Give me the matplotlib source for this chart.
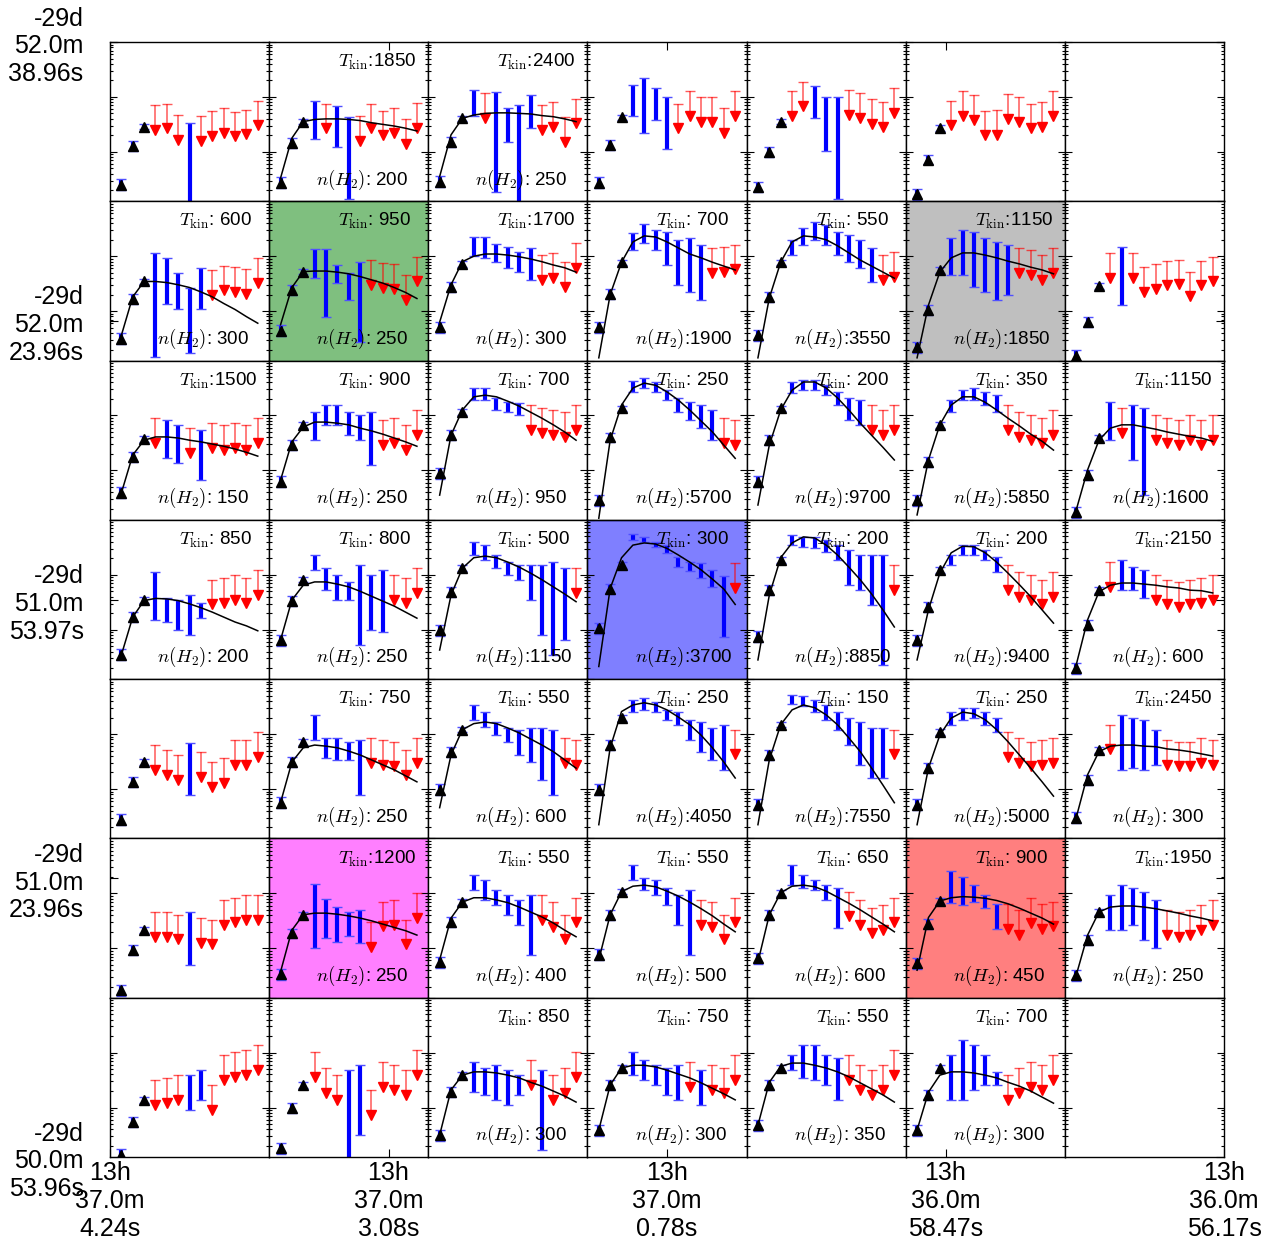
import numpy as np
import matplotlib
matplotlib.use('Agg')
import matplotlib.pyplot as plt
from matplotlib.colors import to_rgba
from matplotlib.ticker import NullFormatter, NullLocator

plt.rcParams['font.family'] = ['Liberation Sans', 'DejaVu Sans']
plt.rcParams['mathtext.fontset'] = 'cm'

# Constants
NROW, NCOL = 7, 7
LEVELS = np.arange(1, 14)        # 13 transitions per panel
YMIN, YMAX = 9.1, 12.0           # log10 column density shown
ARROW_DEX = 0.45                 # length of upper-limit arrows

# outer sky coordinates
RA_LABELS = ['13h\n37.0m\n4.24s', '13h\n37.0m\n3.08s', '13h\n37.0m\n0.78s',
             '13h\n36.0m\n58.47s', '13h\n36.0m\n56.17s']
DEC_LABELS = ['-29d\n50.0m\n53.96s', '-29d\n51.0m\n23.96s', '-29d\n51.0m\n53.97s',
              '-29d\n52.0m\n23.96s', '-29d\n52.0m\n38.96s']

# best-fit parameters per pixel (row by row, top to bottom)
TKIN = [[None, 1850, 2400, None, None, None, None],
        [600, 950, 1700, 700, 550, 1150, None],
        [1500, 900, 700, 250, 200, 350, 1150],
        [850, 800, 500, 300, 200, 200, 2150],
        [None, 750, 550, 250, 150, 250, 2450],
        [None, 1200, 550, 550, 650, 900, 1950],
        [None, None, 850, 750, 550, 700, None]]
NH2 = [[None, 200, 250, None, None, None, None],
       [300, 250, 300, 1900, 3550, 1850, None],
       [150, 250, 950, 5700, 9700, 5850, 1600],
       [200, 250, 1150, 3700, 8850, 9400, 600],
       [None, 250, 600, 4050, 7550, 5000, 300],
       [None, 250, 400, 500, 600, 450, 250],
       [None, None, 300, 300, 350, 300, None]]
SHADE = {(1, 1): 'green', (1, 5): 'gray', (3, 3): 'blue',
         (5, 1): 'magenta', (5, 5): 'red'}

# first three levels (triangles), log10 N
TRI = [
    [9.40, 10.11, 10.46], [9.44, 10.16, 10.55], [9.46, 10.18, 10.61], [9.44, 10.12, 10.63],
    [9.36, 10.00, 10.55], [9.23, 9.86, 10.43], None,
    [9.50, 10.22, 10.54], [9.64, 10.38, 10.72], [9.71, 10.44, 10.86], [9.71, 10.31, 10.89],
    [9.56, 10.26, 10.89], [9.34, 10.02, 10.75], [9.19, 9.81, 10.46],
    [9.59, 10.24, 10.57], [9.79, 10.46, 10.83], [9.95, 10.64, 11.06], [9.46, 10.60, 11.13],
    [9.79, 10.55, 11.13], [9.46, 10.15, 10.83], [9.24, 9.92, 10.59],
    [9.54, 10.23, 10.54], [9.81, 10.52, 10.91], [9.99, 10.68, 11.12], [10.03, 10.74, 11.18],
    [9.87, 10.72, 11.27], [9.81, 10.41, 11.09], [9.30, 10.09, 10.72],
    [9.44, 10.13, 10.49], [9.75, 10.49, 10.86], [9.99, 10.68, 11.08], [9.99, 10.80, 11.29],
    [9.71, 10.62, 11.17], [9.71, 10.38, 11.04], [9.48, 10.17, 10.71],
    [9.24, 9.97, 10.33], [9.53, 10.27, 10.61], [9.75, 10.48, 10.84], [9.88, 10.61, 11.03],
    [9.82, 10.61, 11.01], [9.73, 10.44, 10.86], [9.51, 10.15, 10.66],
    [9.14, 9.74, 10.14], [9.26, 9.99, 10.41], [9.50, 10.28, 10.59], [9.59, 10.41, 10.72],
    [9.68, 10.41, 10.72], [9.59, 10.23, 10.72], None,
]
TRI_ERR = [0.10, 0.09, 0.05]

# levels 4..13: b = detection, r = upper limit
KIND = [
    'rrrbrrrrrr', 'brbbrrrrrr', 'brbbbbrrrr', 'bbbbrrrrrr', 'rrbbbrrrrr', 'rrrrrrrrrr', None,
    'bbbbbrrrrr', 'bbbbbrrrrr', 'bbbbbbrrrr', 'bbbbbbbrrr', 'bbbbbbbbrr', 'bbbbbbrrrr', 'rbrrrrrrrr',
    'rbbrbrrrrr', 'bbbbbbrrrr', 'bbbbbrrrrr', 'bbbbbbbbrr', 'bbbbbbbrrr', 'bbbbbrrrrr', 'brbbrrrrrr',
    'bbbbbrrrrr', 'bbbbbbbrrr', 'bbbbbbbbbr', 'bbbbbbbbbr', 'bbbbbbbbbr', 'bbbbbrrrrr', 'rbbbrrrrrr',
    'rrrbrrrrrr', 'bbbbbrrrrr', 'bbbbbbbbrr', 'bbbbbbbbbr', 'bbbbbbbbbr', 'bbbbbrrrrr', 'rbbbbrrrrr',
    'rrrbrrrrrr', 'bbbbbrrrrr', 'bbbbbbrrrr', 'bbbbbbrrrr', 'bbbbbrrrrr', 'bbbbbrrrrr', 'bbbbbrrrrr',
    'rrrbbrrrrr', 'rrrbbrrrrr', 'bbbbbrbrrr', 'bbbbbrbrrr', 'bbbbbrrrrr', 'bbbbbrrrrr', None,
]

# top of each bar / upper limit value, levels 4..13
UPPER = [
    [10.85, 10.88, 10.67, 10.52, 10.65, 10.74, 10.79, 10.73, 10.77, 10.93],
    [10.93, 10.88, 10.83, 10.63, 10.65, 10.88, 10.75, 10.80, 10.60, 10.89],
    [11.13, 11.07, 11.09, 10.80, 10.86, 11.03, 10.85, 10.91, 10.63, 10.97],
    [11.22, 11.34, 11.17, 11.00, 10.88, 11.11, 11.00, 10.99, 10.80, 11.11],
    [11.11, 11.28, 11.19, 11.00, 10.99, 11.13, 11.07, 10.96, 10.91, 11.16],
    [10.93, 11.11, 11.03, 10.75, 10.76, 11.05, 10.99, 10.88, 10.91, 11.11],
    None,
    [11.05, 10.96, 10.70, 10.42, 10.79, 10.75, 10.83, 10.80, 10.76, 10.96],
    [11.13, 11.13, 10.84, 10.70, 10.90, 10.93, 10.88, 10.86, 10.66, 10.99],
    [11.35, 11.35, 11.22, 11.17, 11.08, 11.15, 11.02, 11.06, 10.89, 11.24],
    [11.42, 11.59, 11.48, 11.44, 11.30, 11.33, 11.21, 11.15, 11.17, 11.21],
    [11.30, 11.51, 11.62, 11.57, 11.44, 11.39, 11.30, 11.15, 11.02, 11.08],
    [11.33, 11.48, 11.44, 11.33, 11.26, 11.21, 11.15, 11.11, 11.02, 11.15],
    [11.05, 11.17, 11.05, 10.80, 10.85, 10.92, 10.94, 10.72, 10.92, 10.99],
    [10.95, 10.92, 10.83, 10.77, 10.73, 10.86, 10.83, 10.86, 10.83, 10.95],
    [11.06, 11.19, 11.19, 11.06, 11.01, 11.06, 10.92, 10.95, 10.83, 11.10],
    [11.50, 11.50, 11.32, 11.24, 11.22, 11.19, 11.14, 11.10, 11.06, 11.19],
    [11.63, 11.68, 11.61, 11.46, 11.32, 11.24, 11.19, 11.10, 10.95, 10.92],
    [11.61, 11.64, 11.64, 11.55, 11.43, 11.32, 11.28, 11.19, 11.10, 11.19],
    [11.28, 11.46, 11.50, 11.43, 11.37, 11.19, 11.06, 11.01, 10.95, 11.10],
    [11.24, 11.13, 11.19, 11.13, 11.01, 10.95, 10.92, 11.01, 10.92, 11.01],
    [11.05, 10.57, 10.54, 10.63, 10.48, 10.91, 10.94, 11.00, 10.94, 11.09],
    [11.36, 11.12, 11.00, 10.87, 11.18, 11.00, 11.09, 11.00, 10.94, 11.12],
    [11.60, 11.54, 11.36, 11.23, 11.18, 11.18, 11.18, 11.23, 11.12, 11.12],
    [11.74, 11.69, 11.60, 11.54, 11.33, 11.24, 11.21, 11.09, 10.97, 11.21],
    [11.72, 11.69, 11.69, 11.63, 11.54, 11.45, 11.36, 11.36, 11.36, 11.18],
    [11.36, 11.54, 11.54, 11.45, 11.32, 11.18, 11.05, 11.00, 10.91, 11.05],
    [11.23, 11.27, 11.14, 11.09, 11.00, 10.91, 10.87, 10.91, 10.94, 11.00],
    [10.80, 10.71, 10.62, 10.84, 10.67, 10.49, 10.56, 10.89, 10.89, 11.04],
    [11.34, 10.92, 10.92, 10.86, 10.89, 10.92, 10.89, 10.86, 10.71, 10.92],
    [11.53, 11.40, 11.22, 11.11, 11.08, 11.11, 11.11, 11.08, 10.92, 10.89],
    [11.62, 11.66, 11.58, 11.44, 11.40, 11.26, 11.22, 11.11, 11.17, 11.08],
    [11.72, 11.69, 11.62, 11.53, 11.40, 11.29, 11.22, 11.11, 11.11, 11.08],
    [11.40, 11.48, 11.48, 11.40, 11.29, 11.04, 10.92, 10.86, 10.89, 10.92],
    [11.17, 11.35, 11.29, 11.26, 11.08, 10.89, 10.86, 10.86, 10.92, 10.89],
    [10.66, 10.66, 10.61, 10.66, 10.55, 10.52, 10.88, 10.92, 10.97, 10.97],
    [11.17, 10.90, 10.76, 10.66, 10.70, 10.47, 10.85, 10.87, 10.52, 11.01],
    [11.34, 11.24, 11.06, 10.97, 10.88, 10.97, 10.97, 10.84, 10.61, 10.92],
    [11.52, 11.28, 11.24, 11.10, 10.97, 11.06, 10.88, 10.84, 10.61, 10.92],
    [11.52, 11.34, 11.24, 11.15, 11.10, 11.03, 10.88, 10.73, 10.79, 10.92],
    [11.40, 11.30, 11.15, 10.97, 10.80, 10.80, 10.70, 10.91, 10.80, 10.85],
    [10.97, 11.15, 11.10, 11.03, 10.88, 10.70, 10.66, 10.70, 10.79, 10.88],
    [10.50, 10.54, 10.59, 10.59, 10.68, 10.41, 10.95, 11.01, 11.04, 11.14],
    [11.01, 10.72, 10.59, 10.68, 10.77, 10.32, 10.83, 10.77, 10.68, 11.04],
    [10.83, 10.72, 10.77, 10.68, 10.59, 10.86, 10.68, 10.59, 10.72, 11.01],
    [11.01, 10.86, 10.77, 10.72, 10.77, 10.83, 10.68, 10.77, 10.72, 10.95],
    [10.95, 11.14, 11.14, 10.95, 10.90, 10.95, 10.77, 10.68, 10.77, 11.04],
    [10.95, 11.23, 11.14, 10.95, 10.65, 10.59, 10.72, 10.83, 10.77, 10.95],
    None,
]

# bottom of each detection bar (only the 'b' levels, in order)
LOWER = [
    [8.90], [10.23, 10.08, 9.15], [10.65, 9.26, 10.18, 9.00, 10.43],
    [10.65, 10.34, 10.58, 10.05], [10.61, 10.01, 9.15], [], None,
    [9.17, 10.13, 10.04, 9.23, 10.04], [10.60, 9.90, 10.51, 10.21, 9.44],
    [11.00, 10.97, 10.89, 10.79, 10.71, 10.57],
    [11.11, 11.24, 11.11, 10.84, 10.48, 10.35, 10.21],
    [11.02, 11.20, 11.30, 11.20, 11.02, 10.89, 10.79, 10.53],
    [10.66, 10.66, 10.44, 10.35, 10.21, 10.30], [10.11],
    [10.22, 10.13, 9.82], [10.55, 10.83, 10.83, 10.64, 10.55, 10.10],
    [11.28, 11.28, 11.10, 11.06, 11.01],
    [11.43, 11.50, 11.43, 11.28, 11.06, 10.92, 10.77, 10.55],
    [11.41, 11.46, 11.46, 11.37, 11.19, 10.92, 10.83],
    [11.06, 11.28, 11.28, 11.19, 11.06], [10.55, 10.19, 9.55],
    [10.18, 10.14, 9.99, 9.90, 10.21], [11.09, 10.72, 10.54, 10.54, 9.72, 9.99, 9.95],
    [11.36, 11.27, 11.12, 11.00, 10.91, 10.54, 9.90, 9.54, 9.81],
    [11.63, 11.60, 11.51, 11.39, 11.15, 11.06, 10.94, 10.78, 9.87],
    [11.54, 11.51, 11.49, 11.42, 11.27, 10.81, 10.72, 10.45, 9.35],
    [11.18, 11.36, 11.36, 11.27, 11.05], [10.72, 10.72, 10.58],
    [9.89], [10.89, 10.56, 10.53, 10.53, 9.89],
    [11.26, 11.13, 10.98, 10.86, 10.62, 10.49, 10.16, 9.89],
    [11.41, 11.44, 11.41, 11.26, 11.17, 10.89, 10.68, 10.53, 10.35],
    [11.54, 11.51, 11.41, 11.26, 11.08, 10.80, 10.44, 10.20, 10.20],
    [11.17, 11.26, 11.29, 11.17, 11.04], [10.35, 10.38, 10.35, 10.44],
    [9.70], [10.01, 10.18, 10.12, 10.23, 10.09],
    [11.06, 10.88, 10.79, 10.61, 10.42, 9.88],
    [11.24, 11.06, 10.97, 10.79, 10.42, 9.88],
    [11.15, 11.10, 11.06, 10.88, 10.37], [10.82, 10.79, 10.85, 10.73, 10.35],
    [10.33, 10.33, 10.42, 10.15, 10.01],
    [9.95, 10.14], [9.05, 9.50], [10.28, 10.23, 10.14, 10.05, 10.23, 9.23],
    [10.59, 10.50, 10.41, 10.23, 10.14, 10.05], [10.68, 10.54, 10.50, 10.41, 10.14],
    [10.14, 10.14, 10.32, 10.41, 10.41], None,
]

# radiative transfer model, levels 1..13
MODEL = [
    None,
    [9.52, 10.25, 10.55, 10.59, 10.60, 10.60, 10.59, 10.57, 10.53, 10.50, 10.47, 10.43, 10.38],
    [9.55, 10.31, 10.61, 10.67, 10.70, 10.71, 10.71, 10.70, 10.69, 10.66, 10.64, 10.60, 10.55],
    None, None, None, None,
    [9.56, 10.26, 10.54, 10.54, 10.52, 10.48, 10.43, 10.35, 10.26, 10.14, 10.03, 9.90, 9.78],
    [9.75, 10.43, 10.72, 10.73, 10.73, 10.71, 10.68, 10.63, 10.57, 10.51, 10.43, 10.34, 10.23],
    [9.80, 10.48, 10.90, 11.00, 11.04, 11.04, 11.02, 10.99, 10.95, 10.90, 10.84, 10.79, 10.71],
    [9.15, 10.30, 10.89, 11.26, 11.37, 11.35, 11.26, 11.15, 11.04, 10.97, 10.89, 10.82, 10.75],
    [9.15, 10.24, 10.89, 11.26, 11.37, 11.35, 11.30, 11.19, 11.06, 10.93, 10.82, 10.71, 10.60],
    [9.15, 10.11, 10.71, 10.97, 11.06, 11.06, 11.02, 10.97, 10.91, 10.86, 10.80, 10.75, 10.68],
    None,
    [9.59, 10.28, 10.55, 10.61, 10.61, 10.59, 10.55, 10.52, 10.48, 10.44, 10.39, 10.33, 10.26],
    [9.82, 10.52, 10.79, 10.88, 10.88, 10.86, 10.83, 10.77, 10.72, 10.66, 10.59, 10.52, 10.44],
    [9.55, 10.64, 11.10, 11.34, 11.37, 11.34, 11.26, 11.17, 11.06, 10.95, 10.83, 10.70, 10.55],
    [9.13, 10.55, 11.19, 11.50, 11.59, 11.55, 11.43, 11.28, 11.10, 10.90, 10.70, 10.46, 10.22],
    [9.37, 10.46, 11.10, 11.46, 11.61, 11.61, 11.50, 11.32, 11.10, 10.86, 10.64, 10.42, 10.19],
    [9.19, 10.19, 10.83, 11.19, 11.34, 11.34, 11.24, 11.10, 10.95, 10.81, 10.66, 10.53, 10.37],
    [9.28, 10.01, 10.55, 10.77, 10.83, 10.83, 10.79, 10.75, 10.70, 10.66, 10.62, 10.59, 10.53],
    [9.54, 10.23, 10.53, 10.57, 10.56, 10.53, 10.47, 10.40, 10.32, 10.23, 10.14, 10.07, 9.98],
    [9.81, 10.54, 10.81, 10.87, 10.87, 10.83, 10.78, 10.70, 10.61, 10.52, 10.43, 10.32, 10.21],
    [9.63, 10.63, 11.12, 11.31, 11.34, 11.31, 11.23, 11.14, 11.03, 10.91, 10.78, 10.65, 10.51],
    [9.33, 10.75, 11.31, 11.54, 11.58, 11.56, 11.48, 11.36, 11.23, 11.09, 10.92, 10.74, 10.46],
    [9.45, 10.63, 11.31, 11.58, 11.69, 11.67, 11.54, 11.36, 11.14, 10.91, 10.65, 10.36, 10.05],
    [9.45, 10.36, 11.03, 11.40, 11.52, 11.51, 11.40, 11.23, 11.03, 10.82, 10.60, 10.36, 10.12],
    [9.36, 10.18, 10.69, 10.81, 10.85, 10.85, 10.83, 10.81, 10.78, 10.76, 10.72, 10.71, 10.67],
    None,
    [9.75, 10.49, 10.75, 10.80, 10.78, 10.75, 10.69, 10.62, 10.53, 10.44, 10.35, 10.24, 10.13],
    [9.66, 10.62, 11.08, 11.19, 11.22, 11.19, 11.11, 11.02, 10.91, 10.80, 10.68, 10.53, 10.38],
    [9.35, 10.75, 11.41, 11.53, 11.57, 11.53, 11.44, 11.31, 11.17, 10.98, 10.75, 10.49, 10.20],
    [9.35, 10.53, 11.17, 11.44, 11.53, 11.48, 11.35, 11.17, 10.93, 10.68, 10.38, 10.07, 9.75],
    [9.35, 10.38, 10.98, 11.29, 11.40, 11.37, 11.26, 11.08, 10.86, 10.62, 10.38, 10.13, 9.87],
    [9.48, 10.26, 10.68, 10.78, 10.80, 10.80, 10.78, 10.77, 10.73, 10.71, 10.68, 10.64, 10.60],
    None,
    [9.57, 10.33, 10.61, 10.64, 10.64, 10.62, 10.59, 10.55, 10.50, 10.44, 10.38, 10.32, 10.24],
    [9.79, 10.55, 10.84, 10.92, 10.92, 10.88, 10.83, 10.75, 10.66, 10.57, 10.46, 10.33, 10.21],
    [9.79, 10.61, 11.03, 11.13, 11.15, 11.12, 11.04, 10.95, 10.84, 10.72, 10.59, 10.44, 10.30],
    [9.75, 10.61, 11.01, 11.13, 11.15, 11.12, 11.04, 10.93, 10.82, 10.70, 10.57, 10.44, 10.30],
    [9.60, 10.56, 10.86, 10.92, 10.94, 10.93, 10.91, 10.87, 10.81, 10.73, 10.64, 10.55, 10.44],
    [9.51, 10.24, 10.66, 10.75, 10.77, 10.77, 10.75, 10.72, 10.68, 10.64, 10.59, 10.55, 10.50],
    None, None,
    [9.50, 10.32, 10.59, 10.65, 10.65, 10.63, 10.59, 10.54, 10.46, 10.39, 10.30, 10.21, 10.10],
    [9.59, 10.41, 10.72, 10.77, 10.77, 10.74, 10.68, 10.61, 10.54, 10.45, 10.35, 10.25, 10.14],
    [9.68, 10.46, 10.75, 10.81, 10.81, 10.77, 10.72, 10.65, 10.56, 10.45, 10.34, 10.23, 10.10],
    [9.59, 10.28, 10.59, 10.65, 10.65, 10.63, 10.59, 10.54, 10.46, 10.39, 10.30, 10.19, 10.08],
    None,
]

fig = plt.figure(figsize=(12.77, 12.43), dpi=100)
left, right = 110 / 1277, 1224 / 1277
top, bottom = 1 - 42 / 1243, 1 - 1157 / 1243
gs = fig.add_gridspec(NROW, NCOL, left=left, right=right, top=top, bottom=bottom,
                      wspace=0, hspace=0)

for r in range(NROW):
    for c in range(NCOL):
        i = r * NCOL + c
        ax = fig.add_subplot(gs[r, c])
        ax.set_yscale('log')
        ax.set_xlim(0, 14)
        ax.set_ylim(10 ** YMIN, 10 ** YMAX)
        ax.xaxis.set_major_locator(NullLocator())
        ax.xaxis.set_minor_locator(NullLocator())
        ax.yaxis.set_major_formatter(NullFormatter())
        ax.yaxis.set_minor_formatter(NullFormatter())
        ax.tick_params(axis='y', which='both', direction='in', left=True, right=True,
                       width=0.8)
        ax.tick_params(axis='y', which='major', length=5)
        ax.tick_params(axis='y', which='minor', length=2.5)
        for s in ax.spines.values():
            s.set_linewidth(1.0)
        if (r, c) in SHADE:
            ax.set_facecolor(to_rgba(SHADE[(r, c)], 0.5))
        if TRI[i] is None:
            continue

        # detections and upper limits, levels 4..13
        lows = iter(LOWER[i])
        for k, kind in enumerate(KIND[i]):
            x = LEVELS[3 + k]
            hi = UPPER[i][k]
            if kind == 'b':
                lo = next(lows)
                ax.vlines(x, 10 ** lo, 10 ** hi, color='blue', lw=3, zorder=2)
                ax.plot([x, x], [10 ** lo, 10 ** hi], ls='none', marker='_', ms=7,
                        mew=1, color='#5050ff', zorder=2)
            else:
                ax.vlines(x, 10 ** (hi - ARROW_DEX), 10 ** hi, color='red', lw=1.1,
                          alpha=0.65, zorder=2)
                ax.plot(x, 10 ** hi, ls='none', marker='_', ms=7, mew=1, color='red',
                        alpha=0.65, zorder=2)
                ax.plot(x, 10 ** (hi - ARROW_DEX), ls='none', marker='v', ms=6.5,
                        color='red', mec='red', zorder=3)

        # first three levels
        tri = np.array(TRI[i])
        err = np.array(TRI_ERR)
        ax.vlines(LEVELS[:3], 10 ** (tri - err), 10 ** (tri + err), color='blue', lw=3,
                  zorder=2)
        ax.plot(np.repeat(LEVELS[:3], 2), 10 ** np.ravel(np.column_stack([tri - err, tri + err])),
                ls='none', marker='_', ms=7, mew=1, color='#5050ff', zorder=2)
        ax.plot(LEVELS[:3], 10 ** tri, ls='none', marker='^', ms=7, color='black', zorder=4)

        if MODEL[i] is not None:
            ax.plot(LEVELS, 10 ** np.array(MODEL[i]), color='black', lw=1.1, zorder=3)
        if TKIN[r][c] is not None:
            ax.text(0.434, 0.874, r'$T_{\rm kin}$:%4d' % TKIN[r][c], transform=ax.transAxes,
                    ha='left', va='center', fontsize=13.5, zorder=5)
            ax.text(0.296, 0.137, r'$n(H_2)$:%4d' % NH2[r][c], transform=ax.transAxes,
                    ha='left', va='center', fontsize=13.5, zorder=5)

# outer coordinate frame
outer = fig.add_axes([left, bottom, right - left, top - bottom])
outer.patch.set_visible(False)
for s in outer.spines.values():
    s.set_visible(False)
outer.set_xlim(0, 4)
outer.set_ylim(0, 4)
outer.set_xticks(range(5))
outer.set_xticklabels(RA_LABELS, fontsize=18)
outer.set_yticks(range(5))
outer.set_yticklabels(DEC_LABELS, fontsize=18)
outer.tick_params(direction='in', top=True, right=True, length=6, width=0.8)
outer.tick_params(axis='y', pad=19)
outer.tick_params(axis='x', pad=3)

fig.savefig('out.png', dpi=100)
